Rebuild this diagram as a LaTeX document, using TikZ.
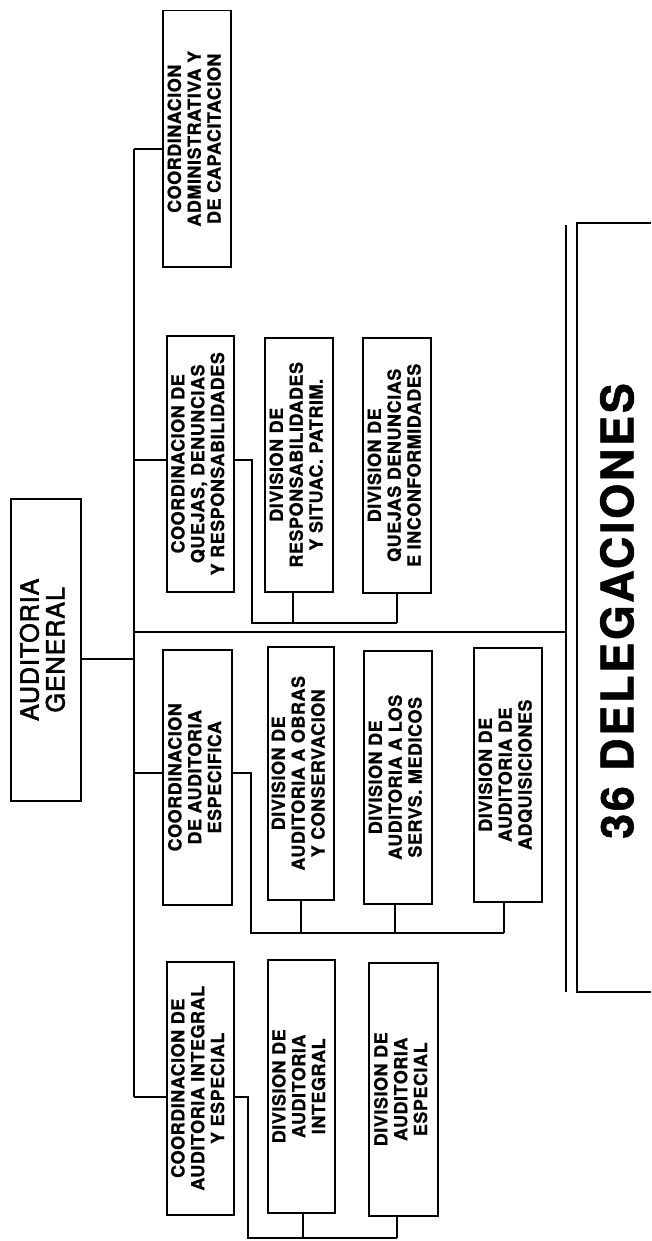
\documentclass[tikz,border=0pt]{standalone}
\usepackage{fontspec}
\setmainfont{TeX Gyre Heros}
\newfontfamily\labfont[LetterSpace=3,BoldFeatures={FakeBold=0.8}]{TeX Gyre Heros}
\newfontfamily\agfont[LetterSpace=4,UprightFeatures={FakeBold=2.5}]{TeX Gyre Heros}
\newfontfamily\delfont[LetterSpace=6,BoldFeatures={FakeBold=1.2}]{TeX Gyre Heros}
\newcommand\lbl[1]{\rotatebox{90}{\labfont\bfseries\fontsize{18}{19.8}\selectfont\begin{tabular}{@{}c@{}}#1\end{tabular}}}
\tikzset{
  box/.style={draw, line width=1.5pt, inner sep=0pt, anchor=north west},
  conn/.style={line width=1.2pt},
}
\begin{document}
\begin{tikzpicture}[x=1pt,y=-1pt]
\useasboundingbox (0,0) rectangle (651,1241);
% top
\node[box, minimum width=70pt, minimum height=302pt] (ag) at (10,498)
  {\rotatebox{90}{\agfont\fontsize{25}{24}\selectfont\begin{tabular}{@{}c@{}}AUDITORIA\\GENERAL\end{tabular}}};
% coordinations
\node[box, minimum width=68pt, minimum height=256pt] (cadm) at (162,10) {\lbl{COORDINACION\\ADMINISTRATIVA Y\\DE CAPACITACION}};
\node[box, minimum width=67pt, minimum height=256pt] (cq) at (166,335) {\lbl{COORDINACION DE\\QUEJAS, DENUNCIAS\\Y RESPONSABILIDADES}};
\node[box, minimum width=69pt, minimum height=255pt] (ce) at (162,649) {\lbl{COORDINACION\\DE AUDITORIA\\ESPECIFICA}};
\node[box, minimum width=67pt, minimum height=253pt] (ci) at (166,961) {\lbl{COORDINACION DE\\AUDITORIA INTEGRAL\\Y ESPECIAL}};
% divisions
\node[box, minimum width=68pt, minimum height=254pt] (dr) at (264,337) {\lbl{DIVISION DE\\RESPONSABILIDADES\\Y SITUAC. PATRIM.}};
\node[box, minimum width=68pt, minimum height=255pt] (dq) at (362,337) {\lbl{DIVISION DE\\QUEJAS DENUNCIAS\\E INCONFORMIDADES}};
\node[box, minimum width=66pt, minimum height=253pt] (dob) at (267,646) {\lbl{DIVISION DE\\AUDITORIA A OBRAS\\Y CONSERVACION}};
\node[box, minimum width=68pt, minimum height=253pt] (dsm) at (363,650) {\lbl{DIVISION DE\\AUDITORIA A LOS\\SERVS. MEDICOS}};
\node[box, minimum width=68pt, minimum height=254pt] (dad) at (473,647) {\lbl{DIVISION DE\\AUDITORIA DE\\ADQUISICIONES}};
\node[box, minimum width=67pt, minimum height=253pt] (di) at (267,959) {\lbl{DIVISION DE\\AUDITORIA\\INTEGRAL}};
\node[box, minimum width=69pt, minimum height=253pt] (des) at (368,962) {\lbl{DIVISION DE\\AUDITORIA\\ESPECIAL}};
% delegaciones
\draw[line width=1.5pt] (651,223) -| (577,992) -- (651,992);
\node[inner sep=0pt] (del) at (617,611)
  {\rotatebox{90}{\delfont\bfseries\fontsize{45}{45}\selectfont 36 DELEGACIONES}};
% trunk
\coordinate (ta) at (134,149);
\coordinate (tq) at (134,460);
\coordinate (tdel) at (134,632);
\coordinate (tg) at (134,659);
\coordinate (te) at (134,773);
\coordinate (ti) at (134,1097);
\draw[conn] (ta) -- (ti);
\draw[conn] (ag.east |- tg) -- (tg);
\draw[conn] (ta) -- (ta -| cadm.west);
\draw[conn] (tq) -- (tq -| cq.west);
\draw[conn] (te) -- (te -| ce.west);
\draw[conn] (ti) -- (ti -| ci.west);
% delegaciones bus
\coordinate (bus1) at (566,225);
\coordinate (bus2) at (566,992);
\draw[conn] (tdel) -- (tdel -| bus1);
\draw[conn] (bus1) -- (bus2);
% quejas branch
\coordinate (q1) at (252,460);
\coordinate (q2) at (252,623);
\coordinate (qr) at (293,623);
\coordinate (qq) at (397,623);
\draw[conn] (cq.east |- q1) -- (q1) -- (q2) -- (qq);
\draw[conn] (qr) -- (qr |- dr.south);
\draw[conn] (qq) -- (qq |- dq.south);
% especifica branch
\coordinate (e1) at (251,773);
\coordinate (e2) at (251,933);
\coordinate (eo) at (301,933);
\coordinate (em) at (395,933);
\coordinate (ea) at (504,933);
\draw[conn] (ce.east |- e1) -- (e1) -- (e2) -- (ea);
\draw[conn] (eo) -- (eo |- dob.south);
\draw[conn] (em) -- (em |- dsm.south);
\draw[conn] (ea) -- (ea |- dad.south);
% integral branch
\coordinate (i1) at (248,1097);
\coordinate (i2) at (248,1238);
\coordinate (ii) at (303,1238);
\coordinate (ie) at (397,1238);
\draw[conn] (ci.east |- i1) -- (i1) -- (i2) -- (ie);
\draw[conn] (ii) -- (ii |- di.south);
\draw[conn] (ie) -- (ie |- des.south);
\end{tikzpicture}
\end{document}
